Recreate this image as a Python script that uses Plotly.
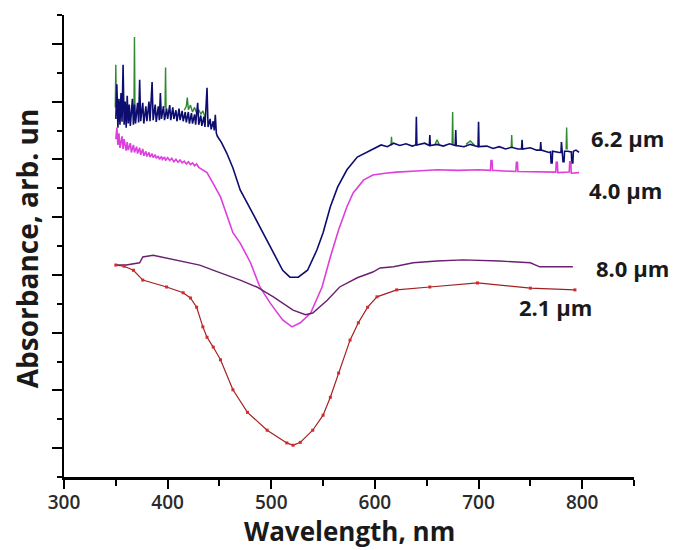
import plotly.graph_objects as go

# ---------------- data ----------------
wl_62_navy = [350,351,352,353,354,355,356,357,358,359,360,361,362,363,364,366,367,368,369,371,
              372,373,374,376,377,379,380,382,383,385,386,388,389,391,392,393,394,396,397,399,
              400,402,403,405,406,408,409,411,412,414,415,417,418,420,421,423,424,426,427,429,
              430,432,433,435,436,438,439,441,442,444,445,446,447,448,452,457,463,470,482,492,
              502,511,518,526,535,544,550,557,564,573,583,593,600,606,612,618,624,630,636,639.5,
              640,640.5,648,652.5,653,653.5,660,666,672,677.5,678,678.5,686,692,699.5,700,700.5,708,714,720,
              726,732,738,741.5,742,742.5,750,756,759.5,760,760.5,768,769.5,770,771,771.5,778,779.5,780,780.5,
              781.5,782.5,783,786,789.5,790,791,791.5,794,797]
ab_62_navy = [6.70,7.30,6.55,7.05,6.60,7.15,6.65,7.64,6.60,7.00,6.55,7.10,6.62,6.95,6.58,7.05,6.60,6.95,6.62,6.98,
              6.64,7.38,6.66,6.98,6.62,6.92,6.66,7.00,6.66,7.34,6.68,6.95,6.65,6.92,6.68,7.15,6.70,6.92,6.68,6.88,
              6.70,6.94,6.68,6.90,6.70,6.85,6.66,6.88,6.68,6.84,6.66,6.82,6.64,6.82,6.62,6.80,6.62,6.78,6.60,6.98,
              6.60,6.76,6.58,6.74,6.56,7.24,6.56,6.70,6.52,6.66,6.50,6.77,6.45,6.40,6.29,6.11,5.85,5.47,5.07,4.73,
              4.38,4.08,3.96,3.96,4.08,4.43,4.73,5.18,5.52,5.82,6.04,6.13,6.20,6.25,6.22,6.28,6.24,6.27,6.23,6.25,
              6.74,6.25,6.28,6.24,6.42,6.24,6.26,6.23,6.27,6.24,6.51,6.24,6.22,6.26,6.22,6.65,6.22,6.23,6.19,6.22,
              6.18,6.21,6.18,6.18,6.34,6.18,6.20,6.16,6.16,6.30,6.16,6.12,6.13,5.94,5.94,6.14,6.12,6.12,6.30,6.12,
              5.96,5.96,6.14,6.14,6.13,5.94,5.94,6.14,6.16,6.12]

# green 6.2 um trace: only the parts that are visible above / beside the navy one (None = gap)
wl_62_green = [349.5,350,350.5,None,367.5,368,368.5,None,397.5,398,398.5,None,
               416,418,419,420,422,424,426,428,430,432,434,436,None,
               615.5,616,616.5,None,658,660,662,None,674.5,675,675.5,None,
               688,692,696,None,731.5,732,732.5,None,784.5,785,785.5]
ab_62_green = [6.90,7.64,6.90,None,6.80,8.12,6.80,None,6.90,7.59,6.85,None,
               6.85,6.92,7.07,6.86,6.94,6.82,6.90,6.80,6.86,6.78,6.84,6.74,None,
               6.24,6.39,6.25,None,6.26,6.34,6.26,None,6.25,6.82,6.25,None,
               6.26,6.32,6.25,None,6.20,6.42,6.20,None,6.17,6.55,6.17]

wl_40 = [350,351,352,353,354,356,357,358,360,361,362,364,365,367,368,370,371,373,374,376,
         377,379,380,382,383,385,386,388,389,391,392,394,395,397,398,400,402,404,406,408,
         410,412,414,416,418,420,422,424,426,428,430,432,434,436,438,444,451,463,470,480,
         489,499,511,520,528,538,549,557,565,573,579,589,598,610,621,640,660,680,700,711.5,
         712,713,713.5,724,736,736.5,737.5,738,750,770,774.5,775,776,776.5,785,787.5,788,789,789.5,797]
ab_40 = [6.35,6.55,6.25,6.45,6.20,6.40,6.18,6.35,6.15,6.30,6.16,6.28,6.12,6.25,6.12,6.22,6.10,6.20,6.08,6.18,
         6.06,6.14,6.05,6.12,6.04,6.10,6.03,6.08,6.02,6.06,6.00,6.05,6.00,6.04,5.98,6.03,5.98,6.02,5.96,6.00,
         5.95,5.99,5.94,5.97,5.92,5.96,5.91,5.94,5.89,5.92,5.86,5.84,5.82,5.80,5.77,5.58,5.35,4.73,4.55,4.21,
         3.79,3.51,3.22,3.10,3.17,3.34,3.79,4.31,4.78,5.18,5.42,5.64,5.73,5.76,5.78,5.80,5.82,5.81,5.82,5.81,
         5.98,5.98,5.81,5.80,5.79,5.95,5.95,5.79,5.79,5.78,5.78,5.95,5.95,5.77,5.78,5.78,5.96,5.96,5.76,5.77]

wl_80 = [350,360,373,376,386,399,415,431,447,463,470,486,502,521,533,540,554,566,579,583,
         598,605,618,637,660,685,720,750,759,791]
ab_80 = [4.17,4.17,4.21,4.31,4.34,4.29,4.24,4.17,4.06,3.96,3.91,3.79,3.62,3.39,3.31,3.34,3.56,3.79,3.91,3.95,
         4.05,4.12,4.14,4.21,4.24,4.26,4.24,4.21,4.14,4.14]

wl_21 = [350,358,367,376,399,415,422,428,434,438,444,451,463,477,496,515,521,528,540,550,
         557,565,576,584,593,602,621,653,699,750,793]
ab_21 = [4.17,4.15,4.08,3.91,3.79,3.69,3.60,3.44,3.10,2.92,2.75,2.53,2.01,1.62,1.31,1.09,1.05,1.10,1.31,1.57,
         1.88,2.30,2.87,3.17,3.44,3.62,3.74,3.79,3.86,3.77,3.74]

labels = ["6.2 µm", "4.0 µm", "8.0 µm", "2.1 µm"]
label_x = [807, 805, 811, 737]
label_y = [6.37, 5.47, 4.12, 3.44]

x_title = "Wavelength, nm"
y_title = "Absorbance, arb. un"

# ---------------- figure ----------------
fig = go.Figure()
fig.add_trace(go.Scatter(x=wl_62_green, y=ab_62_green, mode="lines", connectgaps=False,
                         line=dict(color="#2f8a2f", width=1.4), showlegend=False))
fig.add_trace(go.Scatter(x=wl_62_navy, y=ab_62_navy, mode="lines",
                         line=dict(color="#0d0d70", width=1.6), showlegend=False))
fig.add_trace(go.Scatter(x=wl_40, y=ab_40, mode="lines",
                         line=dict(color="#dd3fdd", width=1.6), showlegend=False))
fig.add_trace(go.Scatter(x=wl_80, y=ab_80, mode="lines",
                         line=dict(color="#6a2070", width=1.4), showlegend=False))
fig.add_trace(go.Scatter(x=wl_21, y=ab_21, mode="lines+markers",
                         line=dict(color="#a32020", width=1.2),
                         marker=dict(symbol="square", size=3, color="#d42a2a"),
                         showlegend=False))

annotations = []
for t, xv, yv in zip(labels, label_x, label_y):
    annotations.append(dict(x=xv, y=yv, xref="x", yref="y", text=t, showarrow=False,
                            xanchor="left", yanchor="middle",
                            font=dict(family="Open Sans", size=22, color="#1a1a1a", weight="bold")))
annotations.append(dict(x=0.5, y=-0.117, xref="paper", yref="paper", text=x_title, showarrow=False,
                        xanchor="center", yanchor="middle",
                        font=dict(family="Open Sans", size=26, color="#1a1a1a", weight="bold")))
annotations.append(dict(x=-0.065, y=0.495, xref="paper", yref="paper", text=y_title, showarrow=False,
                        textangle=-90, xanchor="center", yanchor="middle",
                        font=dict(family="Open Sans", size=28, color="#1a1a1a", weight="bold")))

fig.update_layout(
    width=675, height=550,
    margin=dict(l=64, r=41, t=15, b=73),
    paper_bgcolor="white", plot_bgcolor="white",
    annotations=annotations,
    xaxis=dict(range=[300, 850], showgrid=False, zeroline=False,
               showline=True, linecolor="black", linewidth=3,
               ticks="outside", ticklen=9, tickwidth=2, tickcolor="black",
               tick0=300, dtick=100, ticklabelstandoff=-3,
               minor=dict(dtick=50, ticks="outside", ticklen=6, tickwidth=2, tickcolor="black"),
               tickfont=dict(family="Open Sans", size=19, color="#2a2a2a", weight=600)),
    yaxis=dict(range=[0.5, 8.5], showgrid=False, zeroline=False,
               showline=True, linecolor="black", linewidth=2,
               ticks="outside", ticklen=10, tickwidth=2, tickcolor="black",
               tick0=1, dtick=1, showticklabels=False,
               minor=dict(dtick=0.5, ticks="outside", ticklen=5, tickwidth=1.5, tickcolor="black")),
)

fig.write_html("out.html")
